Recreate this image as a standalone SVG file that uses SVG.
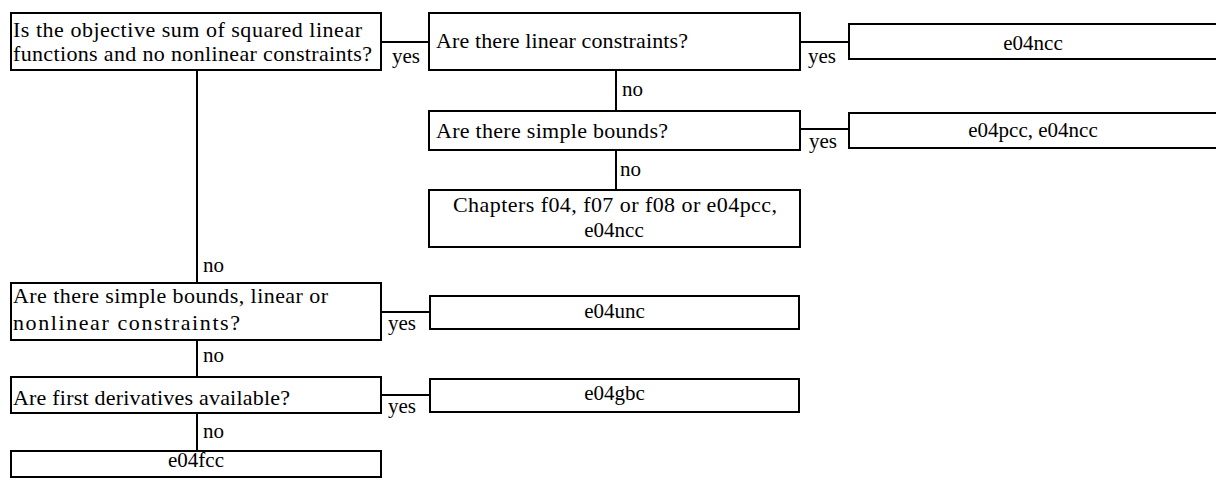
<svg xmlns="http://www.w3.org/2000/svg" width="1216" height="480" viewBox="0 0 1216 480">
<style>
rect{fill:#fff;stroke:#000;stroke-width:2}
text{font-family:"Liberation Serif","Times New Roman",serif;font-size:21px;fill:#000}
.q{font-size:22px}
.c{text-anchor:middle}
.e path{fill:none;stroke:#000;stroke-width:2}
</style>
<rect x="0" y="0" width="1216" height="480" style="stroke:none"/>
<g class="e" id="connectors">
<path d="M382 42H428"/>
<path d="M801 42H848"/>
<path d="M616 71V110"/>
<path d="M801 129H848"/>
<path d="M616 151V189"/>
<path d="M197 71V282"/>
<path d="M382 312H429"/>
<path d="M197 341V376"/>
<path d="M382 395H429"/>
<path d="M197 414V450"/>
<text x="392" y="63">yes</text>
<text x="808" y="63">yes</text>
<text x="622" y="96">no</text>
<text x="809" y="148">yes</text>
<text x="620" y="176">no</text>
<text x="203" y="272">no</text>
<text x="388" y="330">yes</text>
<text x="203" y="362">no</text>
<text x="388" y="413">yes</text>
<text x="203" y="438">no</text>
</g>
<g id="q1"><rect x="11" y="13" width="370" height="57"/>
<text class="q" x="13" y="37" textLength="349" lengthAdjust="spacing">Is the objective sum of squared linear</text>
<text class="q" x="13" y="61" textLength="359" lengthAdjust="spacing">functions and no nonlinear constraints?</text></g>
<g id="q2"><rect x="429" y="13" width="371" height="57"/>
<text class="q" x="436" y="48" textLength="252" lengthAdjust="spacing">Are there linear constraints?</text></g>
<g id="r1"><rect x="849" y="24" width="370" height="35"/>
<text class="c" x="1033" y="50">e04ncc</text></g>
<g id="q3"><rect x="429" y="111" width="371" height="39"/>
<text class="q" x="436" y="138" textLength="232" lengthAdjust="spacing">Are there simple bounds?</text></g>
<g id="r2"><rect x="849" y="113" width="370" height="35"/>
<text class="c" x="1033" y="137">e04pcc, e04ncc</text></g>
<g id="r3"><rect x="429" y="190" width="371" height="57"/>
<text class="c q" x="615" y="212" textLength="324" lengthAdjust="spacing">Chapters f04, f07 or f08 or e04pcc,</text>
<text class="c" x="614" y="237">e04ncc</text></g>
<g id="q4"><rect x="11" y="283" width="370" height="57"/>
<text class="q" x="13" y="303" textLength="315" lengthAdjust="spacing">Are there simple bounds, linear or</text>
<text class="q" x="13" y="330" textLength="227" lengthAdjust="spacing">nonlinear constraints?</text></g>
<g id="r4"><rect x="430" y="296" width="369" height="33"/>
<text class="c" x="614.5" y="318">e04unc</text></g>
<g id="q5"><rect x="11" y="377" width="370" height="36"/>
<text class="q" x="13" y="405" textLength="277" lengthAdjust="spacing">Are first derivatives available?</text></g>
<g id="r5"><rect x="430" y="379" width="369" height="33"/>
<text class="c" x="614.5" y="400">e04gbc</text></g>
<g id="r6"><rect x="11" y="451" width="370" height="26"/>
<text class="c" x="196" y="467">e04fcc</text></g>
</svg>
